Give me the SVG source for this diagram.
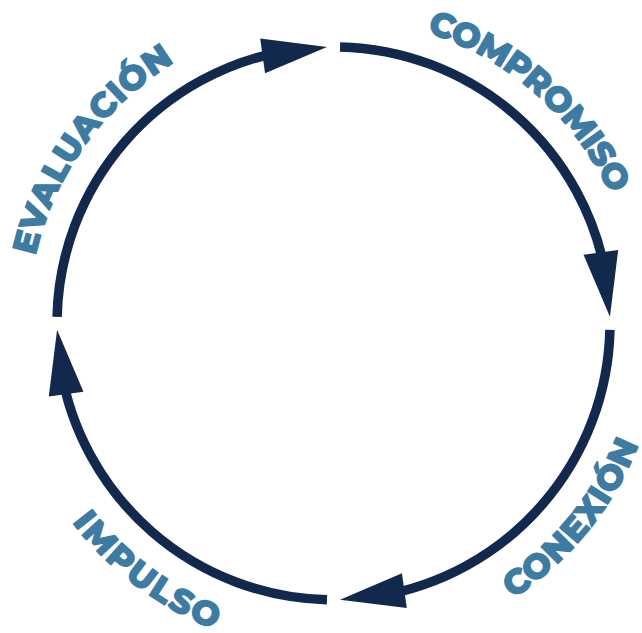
<svg xmlns="http://www.w3.org/2000/svg" xmlns:xlink="http://www.w3.org/1999/xlink" width="642" height="633" viewBox="0 0 642 633">
<style>
.ring{fill:none;stroke:#12294d;stroke-width:9.5;stroke-linecap:butt}
.head{fill:#12294d}
.lbl{font-family:"Montserrat","Open Sans","DejaVu Sans",sans-serif;font-weight:800;font-size:34px;fill:#3e7ba2;stroke:#3e7ba2;stroke-width:1.3;stroke-linejoin:round}
</style>
<defs>
<path id="ah" d="M0,0 L-65,-17.5 L-65,17.5 Z"/>
<path id="p-comp" d="M340.96,17.89 A305.5,305.5 0 0 1 635.57,277.62" fill="none"/>
<path id="p-eval" d="M28.86,346.21 A305.5,305.5 0 0 1 258.04,27.26" fill="none"/>
<path id="p-conx" d="M394.49,646.09 A328.5,328.5 0 0 0 661.98,319.29" fill="none"/>
<path id="p-imp" d="M13.42,397.2 A328.5,328.5 0 0 0 350.69,651.35" fill="none"/>
</defs>
<rect width="642" height="633" fill="#ffffff"/>
<g id="connectors">
<path class="ring" d="M340.01,46.88 A276.5,276.5 0 0 1 606.33,278.38"/>
<path class="ring" d="M609.92,329.81 A276.5,276.5 0 0 1 378.42,596.13"/>
<path class="ring" d="M326.99,599.72 A276.5,276.5 0 0 1 60.67,368.22"/>
<path class="ring" d="M57.08,316.79 A276.5,276.5 0 0 1 288.58,50.47"/>
<use class="head" xlink:href="#ah" transform="translate(609.92,316.79) rotate(82)"/>
<use class="head" xlink:href="#ah" transform="translate(340.01,599.72) rotate(172)"/>
<use class="head" xlink:href="#ah" transform="translate(57.08,329.81) rotate(262)"/>
<use class="head" xlink:href="#ah" transform="translate(326.99,46.88) rotate(-8)"/>
</g>
<g id="compromiso">
<text class="lbl"><textPath xlink:href="#p-comp" startOffset="50%" text-anchor="middle" textLength="252" lengthAdjust="spacing">COMPROMISO</textPath></text>
</g>
<g id="conexion">
<text class="lbl"><textPath xlink:href="#p-conx" startOffset="50%" text-anchor="middle" textLength="202" lengthAdjust="spacing">CONEXIÓN</textPath></text>
</g>
<g id="impulso">
<text class="lbl"><textPath xlink:href="#p-imp" startOffset="50%" text-anchor="middle" textLength="180" lengthAdjust="spacing">IMPULSO</textPath></text>
</g>
<g id="evaluacion">
<text class="lbl"><textPath xlink:href="#p-eval" startOffset="50%" text-anchor="middle" textLength="245" lengthAdjust="spacing">EVALUACIÓN</textPath></text>
</g>
</svg>
